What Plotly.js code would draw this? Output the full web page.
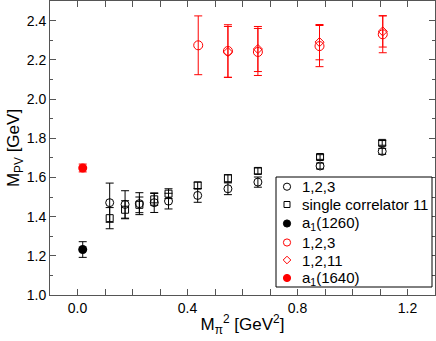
<!DOCTYPE html>
<html>
<head>
<meta charset="utf-8">
<script src="https://cdn.plot.ly/plotly-3.0.1.min.js"></script>
<style>html,body{margin:0;padding:0;background:#fff;}#chart{width:436px;height:341px;}</style>
</head>
<body>
<div id="chart"></div>
<script>
// Black series: x = M_pi^2
const xBlack = [0.117, 0.173, 0.225, 0.279, 0.331, 0.437, 0.547, 0.656, 0.882, 1.108];
const circ123 = [1.471, 1.462, 1.466, 1.471, 1.479, 1.508, 1.542, 1.576, 1.658, 1.733];
const circ123Err = [0.100, 0.070, 0.056, 0.050, 0.040, 0.035, 0.030, 0.026, 0.015, 0.015];
const single11 = [1.392, 1.435, 1.460, 1.488, 1.517, 1.559, 1.595, 1.633, 1.704, 1.776];
const single11Err = [0.054, 0.046, 0.040, 0.030, 0.025, 0.017, 0.019, 0.015, 0.012, 0.012];

// Red series
const xRed123 = [0.439, 0.547, 0.656, 0.880, 1.110];
const red123 = [2.274, 2.245, 2.240, 2.270, 2.330];
const red123Err = [0.150, 0.134, 0.120, 0.105, 0.094];
const xRed1211 = [0.547, 0.656, 0.880, 1.110];
const red1211 = [2.240, 2.255, 2.290, 2.345];
const red1211Err = [0.130, 0.115, 0.090, 0.080];

// Experimental
const xExp = [0.019];
const a1260 = [1.232];
const a1260Err = [0.040];
const a1640 = [1.648];
const a1640Err = [0.020];

// Legend labels
const legendLabels = ['1,2,3', 'single correlator 11', 'a<sub>1</sub>(1260)', '1,2,3', '1,2,11', 'a<sub>1</sub>(1640)'];

const BLK = '#000000';
const RED = '#ff0000';

function eb(arr, color) {
  return {type: 'data', array: arr, visible: true, color: color, thickness: 1, width: 4};
}

const traces = [
  {x: xBlack, y: circ123, name: legendLabels[0], mode: 'markers', type: 'scatter',
   marker: {symbol: 'circle-open', size: 8, color: BLK, line: {width: 1, color: BLK}},
   error_y: eb(circ123Err, BLK)},
  {x: xBlack, y: single11, name: legendLabels[1], mode: 'markers', type: 'scatter',
   marker: {symbol: 'square-open', size: 7, color: BLK, line: {width: 1, color: BLK}},
   error_y: eb(single11Err, BLK)},
  {x: xExp, y: a1260, name: legendLabels[2], mode: 'markers', type: 'scatter',
   marker: {symbol: 'circle', size: 9, color: BLK},
   error_y: eb(a1260Err, BLK)},
  {x: xRed123, y: red123, name: legendLabels[3], mode: 'markers', type: 'scatter',
   marker: {symbol: 'circle-open', size: 9, color: RED, line: {width: 1, color: RED}},
   error_y: eb(red123Err, RED)},
  {x: xRed1211, y: red1211, name: legendLabels[4], mode: 'markers', type: 'scatter',
   marker: {symbol: 'diamond-open', size: 7, color: RED, line: {width: 1, color: RED}},
   error_y: eb(red1211Err, RED)},
  {x: xExp, y: a1640, name: legendLabels[5], mode: 'markers', type: 'scatter',
   marker: {symbol: 'circle', size: 9, color: RED},
   error_y: eb(a1640Err, RED)}
];
traces.forEach(t => t.showlegend = false);

// Hand-built legend box (pixel-accurate placement)
const W = 436, H = 341, ML = 50, MR = 1, MT = 1, MB = 46;
const pw = W - ML - MR, ph = H - MT - MB;
const px = v => (v - ML) / pw;
const py = v => (H - MB - v) / ph;

const rowY = [186.7, 204.5, 223.5, 242.5, 260.0, 278.0];
const keyX = px(287);
const textX = px(301);
const keyStyle = [
  {type: 'circle', color: BLK, fill: false},
  {type: 'rect', color: BLK, fill: false},
  {type: 'circle', color: BLK, fill: true},
  {type: 'circle', color: RED, fill: false},
  {type: 'diamond', color: RED, fill: false},
  {type: 'circle', color: RED, fill: true}
];

const shapes = [{
  type: 'rect', xref: 'paper', yref: 'paper',
  x0: px(276), x1: px(432), y0: py(287), y1: py(177),
  line: {color: '#000', width: 1}, fillcolor: '#fff', layer: 'above'
}];
const annotations = [];
keyStyle.forEach((k, i) => {
  const base = {
    xref: 'paper', yref: 'paper', xsizemode: 'pixel', ysizemode: 'pixel',
    xanchor: keyX, yanchor: py(rowY[i]), layer: 'above',
    line: {color: k.color, width: 1}, fillcolor: k.fill ? k.color : 'rgba(0,0,0,0)'
  };
  if (k.type === 'diamond') {
    shapes.push(Object.assign(base, {type: 'path', path: 'M0,3.8L3.8,0L0,-3.8L-3.8,0Z'}));
  } else {
    const r = k.type === 'rect' ? 3 : 3.6;
    shapes.push(Object.assign(base, {type: k.type, x0: -r, x1: r, y0: -r, y1: r}));
  }
  annotations.push({
    xref: 'paper', yref: 'paper', x: textX, y: py(rowY[i]),
    xanchor: 'left', yanchor: 'middle', showarrow: false,
    text: legendLabels[i], font: {size: 15, color: '#000'}, borderpad: 0
  });
});

const axisCommon = {
  showgrid: false, zeroline: false, showline: true, linecolor: '#555', linewidth: 1,
  mirror: 'ticks', ticks: 'inside', ticklen: 6, tickcolor: '#555', tickwidth: 1,
  tickfont: {family: 'Liberation Sans, Arial, sans-serif', size: 14, color: '#000'}
};

const layout = {
  width: W, height: H,
  margin: {l: ML, r: MR, t: MT, b: MB},
  paper_bgcolor: '#fff', plot_bgcolor: '#fff',
  font: {family: 'Liberation Sans, Arial, sans-serif', size: 14, color: '#000'},
  showlegend: false,
  xaxis: Object.assign({}, axisCommon, {
    range: [-0.1, 1.3], dtick: 0.4, tick0: 0, tickformat: '.1f',
    minor: {ticks: 'inside', ticklen: 6, tickcolor: '#555', dtick: 0.1, tickwidth: 1},
    title: {text: 'M<sub>π</sub><sup>2</sup> [GeV<sup>2</sup>]', font: {size: 17}, standoff: 3}
  }),
  yaxis: Object.assign({}, axisCommon, {
    range: [1.0, 2.5], dtick: 0.2, tick0: 0, tickformat: '.1f',
    minor: {ticks: 'inside', ticklen: 3, tickcolor: '#555', dtick: 0.1, tickwidth: 1},
    title: {text: 'M<sub>PV</sub> [GeV]', font: {size: 17}, standoff: 2}
  }),
  shapes: shapes,
  annotations: annotations
};

Plotly.newPlot('chart', traces, layout, {staticPlot: true});
</script>
</body>
</html>
